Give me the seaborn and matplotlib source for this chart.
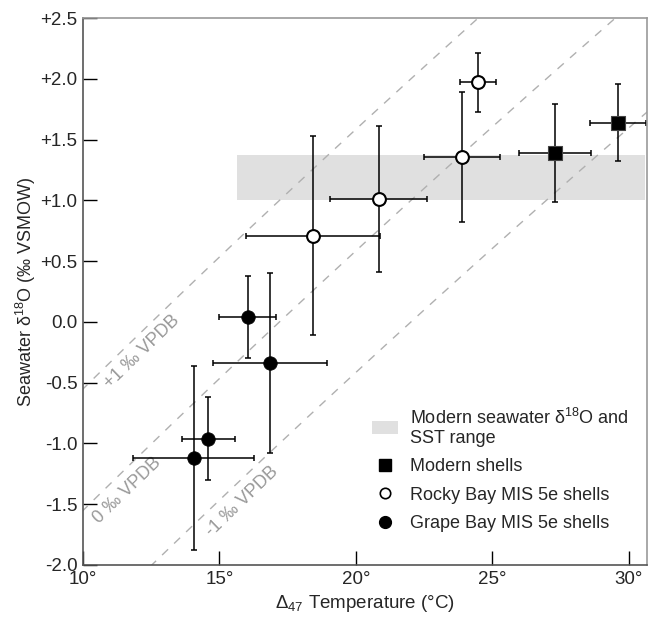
import numpy as np
import pandas as pd
import matplotlib
matplotlib.use("Agg")
import matplotlib.pyplot as plt
import seaborn as sns
from matplotlib.patches import Patch
from matplotlib.lines import Line2D

# ---- data ----
modern_temp = [27.3, 29.6]
modern_temp_err = [1.32, 1.03]
modern_d18o = [1.39, 1.64]
modern_d18o_err = [0.40, 0.32]

rocky_temp = [18.43, 20.84, 23.89, 24.47]
rocky_temp_err = [2.45, 1.77, 1.40, 0.67]
rocky_d18o = [0.71, 1.01, 1.36, 1.97]
rocky_d18o_err = [0.82, 0.60, 0.535, 0.245]

grape_temp = [14.05, 14.59, 16.03, 16.87]
grape_temp_err = [2.20, 0.98, 1.05, 2.09]
grape_d18o = [-1.12, -0.96, 0.04, -0.34]
grape_d18o_err = [0.755, 0.34, 0.34, 0.74]

# modern seawater d18O / SST range
sst_range = [15.66, 30.6]
sw_range = [1.0, 1.375]

# calcite d18O isolines (per mil VPDB) and paleotemperature equation
calcite_vals = [1, 0, -1]
calcite_labels = ["+1 \u2030 VPDB", "0 \u2030 VPDB", "-1 \u2030 VPDB"]
label_pos = [(12.17, -0.25), (11.62, -1.385), (15.85, -1.48)]
eq_a, eq_b, eq_c = 17.2, -4.75, 0.07

xticks = [10, 15, 20, 25, 30]
xticklabels = ["10\u00b0", "15\u00b0", "20\u00b0", "25\u00b0", "30\u00b0"]
yticks = [2.5, 2.0, 1.5, 1.0, 0.5, 0.0, -0.5, -1.0, -1.5, -2.0]
yticklabels = ["+2.5", "+2.0", "+1.5", "+1.0", "+0.5", "0.0", "-0.5", "-1.0", "-1.5", "-2.0"]

sns.set_style("ticks")
plt.rcParams["font.family"] = ["Liberation Sans", "DejaVu Sans"]
plt.rcParams["mathtext.fontset"] = "custom"
plt.rcParams["mathtext.rm"] = "Liberation Sans"
plt.rcParams["mathtext.it"] = "Liberation Sans:italic"
plt.rcParams["mathtext.default"] = "regular"

fig = plt.figure(figsize=(6.5, 6.17), dpi=100)
ax = fig.add_axes([0.1277, 0.0843, 0.8677, 0.8865])

# isolines
sw = np.linspace(-2.3, 2.7, 200)
for dc in calcite_vals:
    delta = dc - sw
    temp = eq_a + eq_b * delta + eq_c * delta ** 2
    ax.plot(temp, sw, color="#b0b0b0", lw=1.0, dashes=(6, 6), zorder=1)

for txt, (tx, ty) in zip(calcite_labels, label_pos):
    ax.text(tx, ty, txt, color="#999999", fontsize=13, rotation=44,
            ha="center", va="center", rotation_mode="anchor", zorder=1)

# shaded modern range
ax.fill_between(sst_range, sw_range[0], sw_range[1], color="#e0e0e0", lw=0, zorder=0)

# error bars
eb = dict(fmt="none", ecolor="black", elinewidth=1.1, capsize=2.5, capthick=1.1, zorder=2)
ax.errorbar(modern_temp, modern_d18o, xerr=modern_temp_err, yerr=modern_d18o_err, **eb)
ax.errorbar(rocky_temp, rocky_d18o, xerr=rocky_temp_err, yerr=rocky_d18o_err, **eb)
ax.errorbar(grape_temp, grape_d18o, xerr=grape_temp_err, yerr=grape_d18o_err, **eb)

# markers
df_mod = pd.DataFrame({"T": modern_temp, "d": modern_d18o})
df_rock = pd.DataFrame({"T": rocky_temp, "d": rocky_d18o})
df_grape = pd.DataFrame({"T": grape_temp, "d": grape_d18o})
sns.scatterplot(data=df_mod, x="T", y="d", marker="s", s=95, color="black",
                edgecolor="#444444", linewidth=0.8, ax=ax, zorder=3)
sns.scatterplot(data=df_rock, x="T", y="d", marker="o", s=85, color="white",
                edgecolor="black", linewidth=1.5, ax=ax, zorder=3)
sns.scatterplot(data=df_grape, x="T", y="d", marker="o", s=95, color="black",
                edgecolor="black", linewidth=0.5, ax=ax, zorder=3)

ax.set_xlim(10, 30.67)
ax.set_ylim(-2.0, 2.5)
ax.set_xticks(xticks)
ax.set_xticklabels(xticklabels)
ax.set_yticks(yticks)
ax.set_yticklabels(yticklabels)
ax.tick_params(direction="in", length=10, width=1, labelsize=13.5, pad=4, color="black")
ax.set_xlabel("\u0394$_{47}$ Temperature (\u00b0C)", fontsize=13.5, labelpad=4)
ax.set_ylabel("Seawater \u03b4$^{18}$O (\u2030 VSMOW)", fontsize=13, labelpad=2)

for side in ["left", "bottom"]:
    ax.spines[side].set_color("#555555")
    ax.spines[side].set_linewidth(1.2)
for side in ["top", "right"]:
    ax.spines[side].set_visible(True)
    ax.spines[side].set_color("#999999")
    ax.spines[side].set_linewidth(1.2)

handles = [
    Patch(facecolor="#e0e0e0", edgecolor="none"),
    Line2D([], [], marker="s", ls="none", color="black", markersize=9),
    Line2D([], [], marker="o", ls="none", markerfacecolor="white",
           markeredgecolor="black", markeredgewidth=1.2, markersize=7.5),
    Line2D([], [], marker="o", ls="none", color="black", markersize=8.5),
]
labels = ["Modern seawater \u03b4$^{18}$O and\nSST range", "Modern shells",
          "Rocky Bay MIS 5e shells", "Grape Bay MIS 5e shells"]
ax.legend(handles, labels, loc="upper left", bbox_to_anchor=(0.5, 0.301),
          frameon=False, fontsize=13, labelspacing=0.62, handlelength=1.4,
          handletextpad=0.7, borderaxespad=0)

fig.savefig("out.png", dpi=100)
